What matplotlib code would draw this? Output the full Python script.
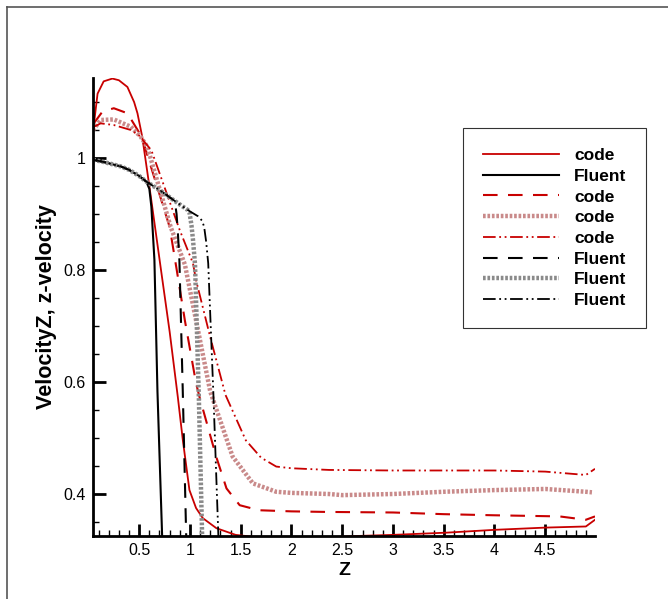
import matplotlib
matplotlib.use("Agg")
import matplotlib.pyplot as plt
from matplotlib.ticker import MultipleLocator
from matplotlib.lines import Line2D

plt.rcParams['font.family'] = ['Liberation Sans', 'DejaVu Sans']

RED = '#c80000'
PINK = '#c98a8a'
GRAY = '#8a8a8a'

# code, solid
code1_x = [0.045, 0.09, 0.15, 0.236, 0.3, 0.384, 0.45, 0.483, 0.53, 0.6, 0.715, 0.8, 0.88, 0.93,
           0.995, 1.06, 1.126, 1.26, 1.45, 1.8, 2.3, 2.64, 3.0, 3.53, 4.0, 4.5, 4.9, 4.99]
code1_y = [1.047, 1.115, 1.137, 1.142, 1.139, 1.127, 1.10, 1.08, 1.038, 0.95, 0.80, 0.69, 0.574, 0.496,
           0.407, 0.375, 0.357, 0.339, 0.327, 0.32, 0.322, 0.325, 0.327, 0.331, 0.336, 0.34, 0.342, 0.354]

# code, dashed
code2_x = [0.045, 0.138, 0.25, 0.384, 0.515, 0.55, 0.80, 0.87, 0.95, 1.06, 1.093, 1.258, 1.36, 1.49,
           1.68, 2.0, 2.34, 3.0, 3.5, 4.0, 4.64, 4.9, 4.99]
code2_y = [1.06, 1.083, 1.089, 1.08, 1.041, 1.023, 0.877, 0.80, 0.71, 0.598, 0.574, 0.467, 0.41, 0.38,
           0.371, 0.369, 0.368, 0.367, 0.364, 0.362, 0.36, 0.354, 0.36]

# code, thick dotted
code3_x = [0.045, 0.12, 0.25, 0.417, 0.515, 0.58, 0.81, 0.95, 1.2, 1.42, 1.62, 1.85, 2.0, 2.37,
           2.5, 3.0, 3.5, 4.0, 4.5, 4.9, 4.96]
code3_y = [1.05, 1.068, 1.069, 1.056, 1.038, 1.02, 0.877, 0.81, 0.583, 0.467, 0.419, 0.404, 0.402, 0.40,
           0.398, 0.40, 0.404, 0.407, 0.409, 0.404, 0.403]

# code, dash-dot-dot
code4_x = [0.045, 0.12, 0.25, 0.42, 0.5, 0.62, 0.90, 1.03, 1.06, 1.2, 1.35, 1.55, 1.7, 1.85, 2.0,
           2.37, 3.0, 4.0, 4.5, 4.9, 4.99]
code4_y = [1.055, 1.062, 1.059, 1.05, 1.04, 1.014, 0.871, 0.812, 0.782, 0.68, 0.577, 0.496, 0.465, 0.449,
           0.446, 0.443, 0.442, 0.442, 0.44, 0.434, 0.445]

# Fluent, solid
fl1_x = [0.045, 0.15, 0.32, 0.40, 0.5, 0.57, 0.6, 0.62, 0.65, 0.68, 0.726]
fl1_y = [0.997, 0.993, 0.985, 0.979, 0.968, 0.958, 0.945, 0.913, 0.818, 0.583, 0.325]

# Fluent, dashed
fl2_x = [0.045, 0.15, 0.32, 0.40, 0.5, 0.57, 0.7, 0.83, 0.855, 0.868, 0.88, 0.896, 0.929, 0.963]
fl2_y = [0.997, 0.993, 0.985, 0.979, 0.968, 0.958, 0.943, 0.926, 0.918, 0.90, 0.87, 0.818, 0.586, 0.325]

# Fluent, thick dotted
fl3_x = [0.045, 0.15, 0.32, 0.40, 0.5, 0.57, 0.7, 0.83, 0.98, 0.995, 1.015, 1.03, 1.05, 1.087, 1.12]
fl3_y = [0.997, 0.993, 0.985, 0.979, 0.968, 0.958, 0.943, 0.926, 0.907, 0.903, 0.88, 0.854, 0.81, 0.577, 0.325]

# Fluent, dash-dot-dot
fl4_x = [0.045, 0.15, 0.32, 0.40, 0.5, 0.57, 0.7, 0.83, 0.98, 1.08, 1.12, 1.14, 1.16, 1.18, 1.23, 1.28]
fl4_y = [0.997, 0.993, 0.985, 0.979, 0.968, 0.958, 0.943, 0.926, 0.907, 0.896, 0.888, 0.877, 0.85, 0.812,
         0.583, 0.325]

labels = ['code', 'Fluent', 'code', 'code', 'code', 'Fluent', 'Fluent', 'Fluent']

fig = plt.figure(figsize=(6.68, 5.99), dpi=100)
ax = fig.add_axes([93 / 668, 1 - 536 / 599, (595 - 93) / 668, (536 - 78) / 599])

dashdotdot = (0, (7, 2, 1, 2, 1, 2))
dotted = (0, (0.6, 0.4))

h1, = ax.plot(code1_x, code1_y, color=RED, lw=1.3, label=labels[0])
h2, = ax.plot(fl1_x, fl1_y, color='black', lw=1.5, label=labels[1])
h3, = ax.plot(code2_x, code2_y, color=RED, lw=1.5, ls=(0, (7, 5)), label=labels[2])
h4, = ax.plot(code3_x, code3_y, color=PINK, lw=3.2, ls=dotted, label=labels[3])
h5, = ax.plot(code4_x, code4_y, color=RED, lw=1.3, ls=dashdotdot, label=labels[4])
h6, = ax.plot(fl2_x, fl2_y, color='black', lw=1.5, ls=(0, (7, 5)), label=labels[5])
h7, = ax.plot(fl3_x, fl3_y, color=GRAY, lw=3.2, ls=dotted, label=labels[6])
h8, = ax.plot(fl4_x, fl4_y, color='black', lw=1.3, ls=dashdotdot, label=labels[7])

ax.set_xlim(0.045, 4.99)
ax.set_ylim(0.325, 1.143)

ax.xaxis.set_major_locator(MultipleLocator(0.5))
ax.xaxis.set_minor_locator(MultipleLocator(0.1))
ax.yaxis.set_major_locator(MultipleLocator(0.2))
ax.yaxis.set_minor_locator(MultipleLocator(0.05))
ax.xaxis.set_major_formatter(lambda v, p: f'{v:g}')
ax.yaxis.set_major_formatter(lambda v, p: f'{v:g}')

ax.tick_params(which='major', direction='in', length=9, width=2, labelsize=11.5, pad=5)
ax.tick_params(which='minor', direction='in', length=4, width=1)
ax.tick_params(top=False, right=False)
for s in ['top', 'right']:
    ax.spines[s].set_visible(False)
for s in ['left', 'bottom']:
    ax.spines[s].set_linewidth(2)

ax.set_xlabel('Z', fontsize=14, fontweight='bold', labelpad=3)
ax.set_ylabel('VelocityZ, z-velocity', fontsize=15.5, fontweight='bold', labelpad=5)

leg = ax.legend(handles=[h1, h2, h3, h4, h5, h6, h7, h8],
                loc='upper left', bbox_to_anchor=(463 / 668, 1 - 128 / 599),
                bbox_transform=fig.transFigure, frameon=True, fancybox=False,
                prop={'weight': 'bold', 'size': 12.5}, handlelength=4.4, handletextpad=0.85,
                labelspacing=0.32, borderpad=1.15, borderaxespad=0)
leg.get_frame().set_edgecolor('black')
leg.get_frame().set_linewidth(0.8)

# outer frame border
fig.add_artist(Line2D([6.5 / 668, 6.5 / 668], [0, 1 - 7 / 599], transform=fig.transFigure,
                      color='#555555', lw=1.2))
fig.add_artist(Line2D([6.5 / 668, 1], [1 - 7 / 599, 1 - 7 / 599], transform=fig.transFigure,
                      color='#555555', lw=1.2))

fig.savefig('out.png', dpi=100)
